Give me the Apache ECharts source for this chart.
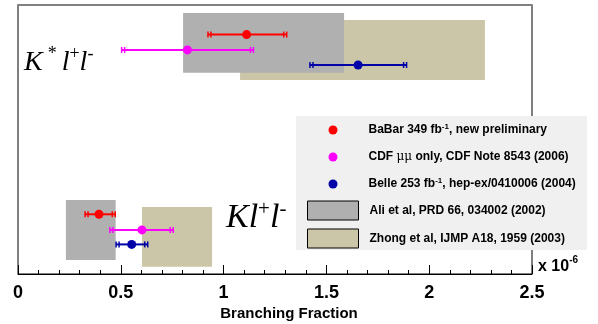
<!DOCTYPE html>
<html>
<head>
<meta charset="utf-8">
<script src="https://cdn.jsdelivr.net/npm/echarts@6/dist/echarts.min.js"></script>
<style>
  html, body { margin: 0; padding: 0; background: #fff; }
  #chart { width: 598px; height: 324px; }
</style>
</head>
<body>
<div id="chart"></div>
<script>
// measurements: [central, low, high, row]  (first K*l+l-, then Kl+l-)
const babar = [[1.112, 0.924, 1.307, 8.90], [0.394, 0.326, 0.473, 2.22]]
const cdf = [[0.824, 0.504, 1.145, 8.33], [0.603, 0.447, 0.755, 1.64]]
const belle = [[1.654, 1.420, 1.890, 7.77], [0.553, 0.477, 0.631, 1.10]]
// theory bands: [xMin, xMax, rowMin, rowMax]
const ali = [[0.803, 1.586, 7.48, 9.70], [0.233, 0.475, 0.52, 2.75]]
const zhong = [[1.080, 2.271, 7.21, 9.44], [0.603, 0.944, 0.27, 2.49]]
const xTicks = [0, 0.5, 1, 1.5, 2, 2.5]

const expNames = ['BaBar', 'CDF', 'Belle']
const thNames = ['Ali', 'Zhong']
const legendText = {
  BaBar: 'BaBar 349 fb{sup|-1}, new preliminary',
  CDF: 'CDF {mu|\u03bc\u03bc} only, CDF Note 8543 (2006)',
  Belle: 'Belle 253 fb{sup|-1}, hep-ex/0410006 (2004)',
  Ali: 'Ali et al, PRD 66, 034002 (2002)',
  Zhong: 'Zhong et al, IJMP A18, 1959 (2003)'
}

function renderBox (params, api) {
  const a = api.coord([api.value(0), api.value(2)])
  const b = api.coord([api.value(1), api.value(3)])
  return {
    type: 'rect',
    shape: { x: a[0], y: b[1], width: b[0] - a[0], height: a[1] - b[1] },
    style: { fill: api.visual('color') }
  }
}

function renderErr (params, api) {
  const p = api.coord([api.value(0), api.value(3)])
  const lo = api.coord([api.value(1), api.value(3)])[0]
  const hi = api.coord([api.value(2), api.value(3)])[0]
  const color = api.visual('color')
  const st = { stroke: color, lineWidth: 2 }
  const cap = (x) => ({ type: 'line', shape: { x1: x, y1: p[1] - 3, x2: x, y2: p[1] + 3 }, style: { stroke: color, lineWidth: 1.5 } })
  return {
    type: 'group',
    children: [
      { type: 'line', shape: { x1: lo, y1: p[1], x2: hi, y2: p[1] }, style: st },
      cap(lo), cap(lo + 3), cap(hi), cap(hi - 3),
      { type: 'circle', shape: { cx: p[0], cy: p[1], r: 4.5 }, style: { fill: color } }
    ]
  }
}

const chart = echarts.init(document.getElementById('chart'))
const legendRich = {
  sup: { fontSize: 8, fontWeight: 'bold', fontFamily: 'Liberation Sans', color: '#000', verticalAlign: 'top', lineHeight: 8 },
  mu: { fontSize: 12, fontWeight: 'normal', fontFamily: 'DejaVu Serif', color: '#000' }
}
const legendTextStyle = {
  fontFamily: 'Liberation Sans',
  fontWeight: 'bold',
  fontSize: 12,
  color: '#000',
  lineHeight: 14,
  rich: legendRich
}

const option = {
  animation: false,
  grid: {
    left: 18, right: 66, top: 5, bottom: 50,
    show: true, borderColor: '#000', borderWidth: 1
  },
  xAxis: [{
    type: 'value',
    min: 0, max: 2.5, interval: 0.5,
    axisLine: { lineStyle: { color: '#000', width: 1 } },
    axisTick: { inside: true, length: 9, lineStyle: { color: '#000' } },
    minorTick: { show: true, splitNumber: 5, length: 4, lineStyle: { color: '#000' } },
    splitLine: { show: false },
    axisLabel: {
      margin: 10,
      fontFamily: 'Liberation Sans', fontWeight: 'bold', fontSize: 18, color: '#000',
      formatter: (v) => xTicks.includes(v) ? String(v) : ''
    }
  }, {
    type: 'value', position: 'top', min: 0, max: 2.5,
    axisLine: { lineStyle: { color: '#808080', width: 2 } },
    axisTick: { show: false }, axisLabel: { show: false }, splitLine: { show: false }
  }],
  yAxis: {
    type: 'value', min: 0, max: 10,
    show: false
  },
  legend: [{
    orient: 'vertical',
    left: 328.5, top: 123,
    itemWidth: 9, itemHeight: 9, itemGap: 13,
    padding: 0,
    z: 5,
    selectedMode: false,
    data: expNames.map(n => ({ name: n, icon: 'circle' })),
    formatter: (n) => legendText[n],
    textStyle: Object.assign({}, legendTextStyle, { padding: [0, 0, 0, 26] })
  }, {
    orient: 'vertical',
    left: 307, top: 200.5,
    itemWidth: 51, itemHeight: 19, itemGap: 8,
    padding: 0,
    z: 5,
    selectedMode: false,
    data: thNames.map(n => ({ name: n, icon: 'rect', itemStyle: { borderColor: '#000', borderWidth: 1 } })),
    formatter: (n) => legendText[n],
    textStyle: Object.assign({}, legendTextStyle, { padding: [0, 0, 0, 6] })
  }],
  graphic: [{
    type: 'rect', z: 3,
    shape: { x: 296, y: 116, width: 291, height: 134 },
    style: { fill: '#f0f0f0' }
  }, {
    type: 'text', left: 24, top: 45, z: 4,
    style: {
      text: '{k|K}{s|*}{k|l}{p|+}{k|l}{p|-}',
      rich: {
        k: { fontFamily: 'Liberation Serif', fontStyle: 'italic', fontSize: 28, color: '#000', verticalAlign: 'bottom', lineHeight: 32 },
        s: { fontFamily: 'Liberation Serif', fontSize: 18, color: '#000', verticalAlign: 'top', lineHeight: 32, padding: [0, 5, 0, 5] },
        p: { fontFamily: 'Liberation Serif', fontSize: 18, color: '#000', verticalAlign: 'top', lineHeight: 32 }
      }
    }
  }, {
    type: 'text', left: 226, top: 199, z: 4,
    style: {
      text: '{k|Kl}{p|+}{k|l}{p|-}',
      rich: {
        k: { fontFamily: 'Liberation Serif', fontStyle: 'italic', fontSize: 34, color: '#000', verticalAlign: 'bottom', lineHeight: 36 },
        p: { fontFamily: 'Liberation Serif', fontSize: 21, color: '#000', verticalAlign: 'top', lineHeight: 36 }
      }
    }
  }, {
    type: 'text', left: 538, top: 255, z: 4,
    style: {
      text: '{b|x 10}{s|-6}',
      rich: {
        b: { fontFamily: 'Liberation Sans', fontWeight: 'bold', fontSize: 16, color: '#000', verticalAlign: 'bottom', lineHeight: 20 },
        s: { fontFamily: 'Liberation Sans', fontWeight: 'bold', fontSize: 10, color: '#000', verticalAlign: 'top', lineHeight: 20 }
      }
    }
  }, {
    type: 'text', x: 289, y: 314, z: 4,
    style: {
      text: 'Branching Fraction',
      fontFamily: 'Liberation Sans', fontWeight: 'bold', fontSize: 15, fill: '#000',
      align: 'center', verticalAlign: 'middle'
    }
  }],
  series: [
    { name: 'Ali', type: 'custom', renderItem: renderBox, data: ali, itemStyle: { color: '#b0b0b0' }, z: 1 },
    { name: 'Zhong', type: 'custom', renderItem: renderBox, data: zhong, itemStyle: { color: '#ccc6a8' }, z: 0 },
    { name: 'BaBar', type: 'custom', renderItem: renderErr, data: babar, itemStyle: { color: '#ff0000' }, z: 2 },
    { name: 'CDF', type: 'custom', renderItem: renderErr, data: cdf, itemStyle: { color: '#ff00ff' }, z: 2 },
    { name: 'Belle', type: 'custom', renderItem: renderErr, data: belle, itemStyle: { color: '#0000a8' }, z: 2 }
  ]
}
chart.setOption(option)
</script>
</body>
</html>
